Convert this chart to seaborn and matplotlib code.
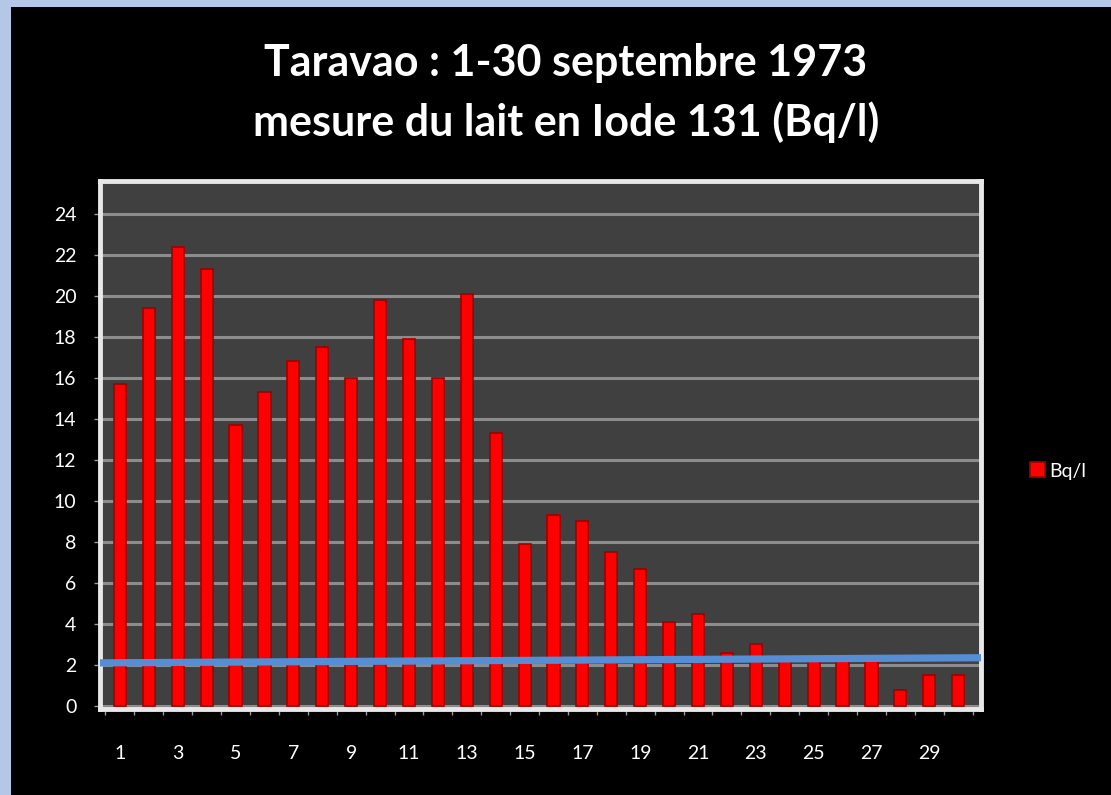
from matplotlib.patches import Rectangle
import pandas as pd
import matplotlib.pyplot as plt
import seaborn as sns

sns.set_theme(style="dark")
plt.rcParams["font.family"] = ["Lato", "DejaVu Sans"]

OUTPUT_PNG = "out.png"

DAYS = list(range(1, 31))
BQ_PER_L = [15.7, 19.4, 22.4, 21.3, 13.7, 15.3, 16.8, 17.5, 16.0, 19.8,
            17.9, 16.0, 20.1, 13.3, 7.9, 9.3, 9.0, 7.5, 6.7, 4.1,
            4.5, 2.6, 3.0, 2.3, 2.3, 2.3, 2.3, 0.8, 1.5, 1.5]
TICK_DAYS = list(range(1, 30, 2))
Y_TICKS = list(range(0, 25, 2))
LINE_LEVEL = [2.1, 2.35]  # blue line, left end / right end
SERIES_LABEL = "Bq/l"
TITLE_LINES = ["Taravao : 1-30 septembre 1973",
               "mesure du lait en Iode 131 (Bq/l)"]

W, H = 1111, 795


def main():
    df = pd.DataFrame({"day": DAYS, "bq": BQ_PER_L})

    fig = plt.figure(figsize=(W / 100, H / 100), dpi=100, facecolor="#b4c7e7")
    fig.patches.append(Rectangle((11 / W, 0), 1, 1 - 7 / H, transform=fig.transFigure,
                                 facecolor="black", edgecolor="none", zorder=-10))

    ax = fig.add_axes([100 / W, 1 - 709 / H, 881 / W, 528 / H])
    ax.set_zorder(2)
    ax.set_facecolor("#404040")

    sns.barplot(
        data=df, x="day", y="bq",
        color="#ff0000", saturation=1, width=0.42,
        edgecolor="#a00000", linewidth=1.2,
        label=SERIES_LABEL, ax=ax, zorder=3,
    )
    handles, labels = ax.get_legend_handles_labels()
    if ax.get_legend() is not None:
        ax.get_legend().remove()

    ax.set_ylim(-0.15, 25.6)
    ax.set_xlim(-0.69, 29.79)
    x0, x1 = ax.get_xlim()
    ax.plot([x0, x1], LINE_LEVEL, color="#558ed5", lw=5.2,
            solid_capstyle="butt", zorder=4)

    ax.set_yticks(Y_TICKS)
    ax.set_yticklabels([str(v) for v in Y_TICKS])
    ax.yaxis.grid(True, color="#8c8c8c", lw=2.2)
    ax.xaxis.grid(False)
    ax.set_axisbelow(True)

    pos = [DAYS.index(d) for d in TICK_DAYS]
    ax.set_xticks(pos)
    ax.set_xticklabels([str(d) for d in TICK_DAYS])
    ax.set_xticks([i - 0.5 for i in range(len(DAYS) + 1)], minor=True)
    ax.tick_params(axis="x", which="major", length=0, pad=26,
                   labelsize=14, labelcolor="white")
    ax.tick_params(axis="x", which="minor", length=4, width=1,
                   color="#9a9a9a", direction="out", bottom=True)
    ax.tick_params(axis="y", length=4, width=1, color="#9a9a9a",
                   pad=13, labelsize=14, labelcolor="white", left=True)

    for side in ["top", "bottom", "left", "right"]:
        ax.spines[side].set_visible(True)
        ax.spines[side].set_color("#e8e8e8")
        ax.spines[side].set_linewidth(3.5)

    ax.set_xlabel("")
    ax.set_ylabel("")

    fig.legend(handles[:1], labels[:1], loc="center left",
               bbox_to_anchor=(1012 / W, 1 - 471 / H),
               frameon=False, fontsize=14, labelcolor="white",
               handlelength=0.8, handleheight=0.8, handletextpad=0.2)

    for i, line in enumerate(TITLE_LINES):
        fig.text(566 / W, 1 - (76 + 60 * i) / H, line, ha="center", va="baseline",
                 fontsize=31, fontweight="bold", color="white")

    plt.savefig(OUTPUT_PNG, dpi=100, facecolor=fig.get_facecolor())
    print(f"[OK] Saved: {OUTPUT_PNG}")


if __name__ == "__main__":
    main()
